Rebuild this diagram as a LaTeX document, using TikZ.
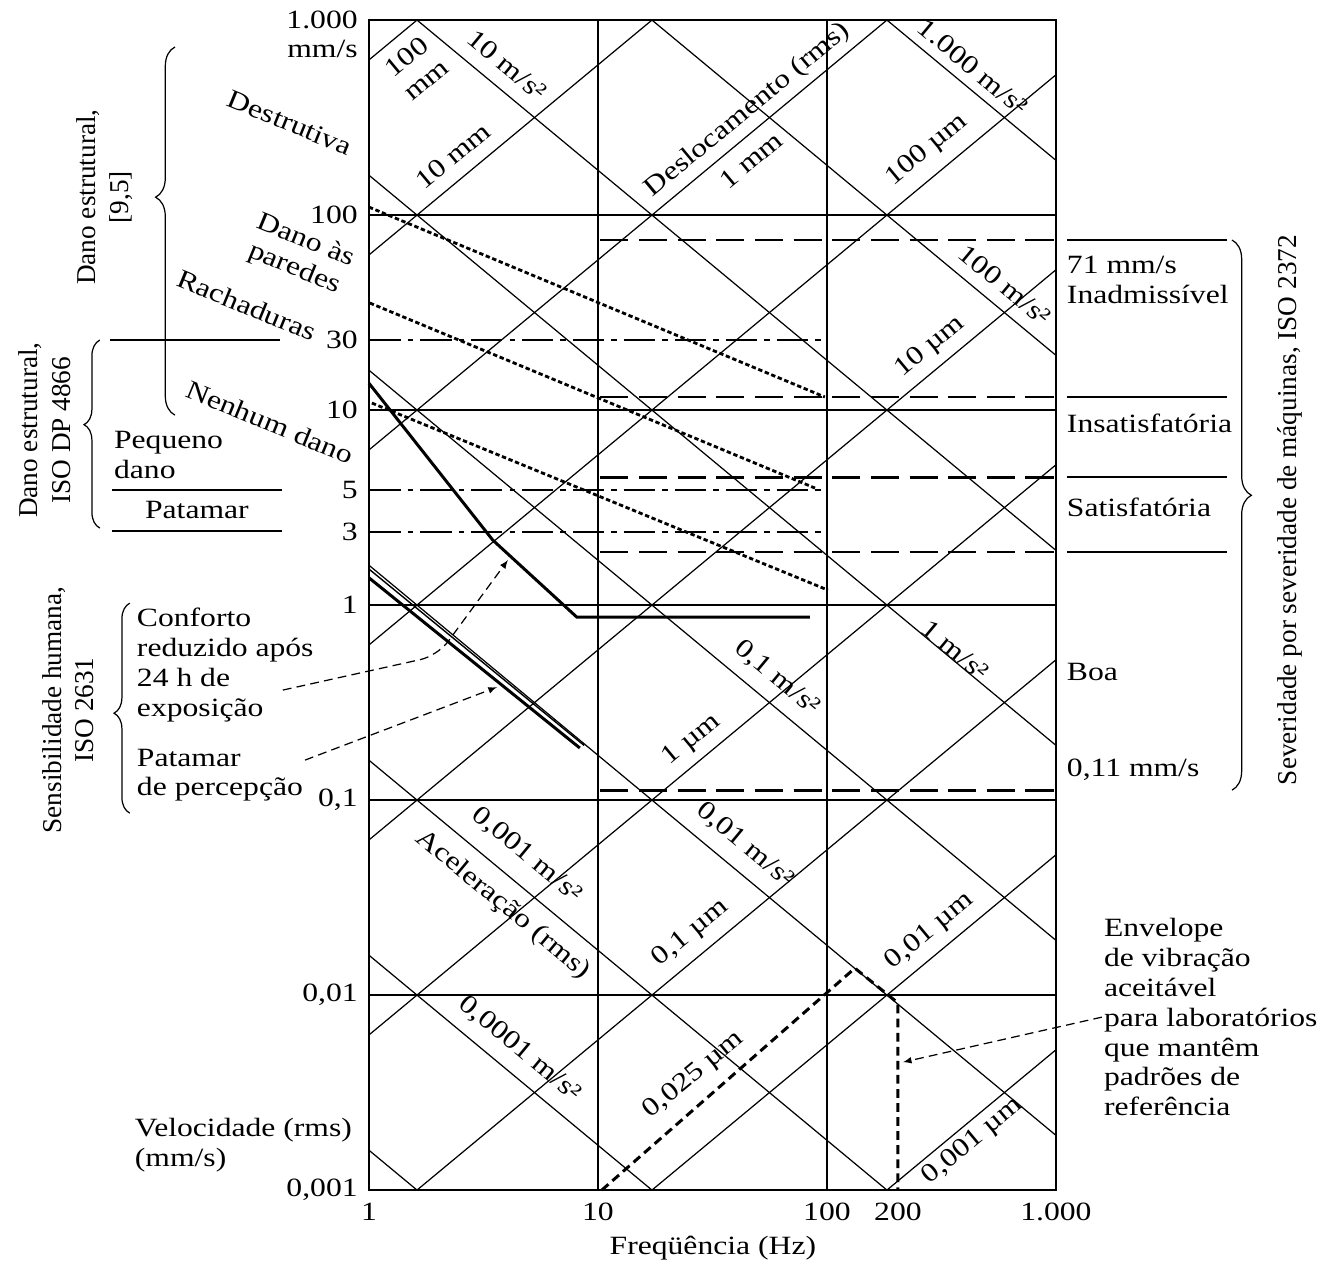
\documentclass[tikz,border=0pt]{standalone}
\usepackage{fontspec}
\setmainfont{Liberation Serif}[FakeStretch=1.2]
\newfontfamily\vertfont{Liberation Serif}
\usetikzlibrary{arrows}
\usetikzlibrary{decorations.pathreplacing}

\begin{document}
\begin{tikzpicture}[x=4.58cm, y=3.9cm,
    thingrid/.style={line width=0.75pt},
    diagline/.style={line width=0.7pt},
    isoline/.style={line width=1.6pt, dash pattern=on 16pt off 6pt},
    dashdotline/.style={line width=1.5pt, dash pattern=on 18pt off 4pt on 3pt off 4pt},
    dotline/.style={line width=1.6pt, dash pattern=on 2.5pt off 1.5pt},
    critline/.style={line width=1.7pt},
    leader/.style={line width=0.7pt, dash pattern=on 5pt off 3pt, -latex},
    lbl/.style={font=\fontsize{15}{17}\selectfont, inner sep=1pt, align=center},
    vlbl/.style={font=\vertfont\fontsize{15.5}{18.5}\selectfont, rotate=90, align=center, inner sep=1pt},
    uplbl/.style={lbl, rotate=39.7},
    downlbl/.style={lbl, rotate=-39.7},
    critlbl/.style={lbl, rotate=-22.3},
    bracefig/.style={decorate, line width=0.7pt}
]
\useasboundingbox (-1.611,-0.395) rectangle (4.258,6.103);

% displacement and acceleration lines
\begin{scope}
    \clip (0,0) rectangle (3,6);
    \foreach \k in {-2,...,6}
        \draw[diagline] (0.21-8*1.026,\k-8) -- (0.21+8*1.026,\k+8);
    \foreach \k in {0,...,8}
        \draw[diagline] (0.21-8*1.026,\k+8) -- (0.21+8*1.026,\k-8);
\end{scope}

% decades and frame
\foreach \k in {1,...,5}
    \draw[thingrid] (0,\k) -- (3,\k);
\foreach \k in {1,2}
    \draw[thingrid] (\k,0) -- (\k,6);
\draw[line width=1.5pt] (0,0) rectangle (3,6);

% axis labels
\node[lbl, anchor=north east, align=right] (vtop) at (-0.04,6.06) {1.000\\mm/s};
\foreach \yv/\txt/\nm in {5/100/v100, 4.359/30/v30, 4/10/v10, 3.59/5/v5, 3.374/3/v3,
        3/1/v1, 2/{0,1}/vp1, 1/{0,01}/vp01, 0/{0,001}/vp001}
    \node[lbl, anchor=east] (\nm) at (-0.04,\yv) {\txt};
\foreach \xv/\txt/\nm in {0/1/f1, 1/10/f10, 2/100/f100, 2.31/200/f200, 3/1.000/f1000}
    \node[lbl] (\nm) at (\xv,-0.113) {\txt};
\node[lbl] (xtitle) at (1.502,-0.297) {Freqüência (Hz)};
\node[lbl, anchor=west, align=left] (ytitle) at (-1.031,0.231) {Velocidade (rms)\\(mm/s)};

% labels on the diagonals
\node[uplbl] (d100mm) at (0.205,5.754) {100\\mm};
\node[uplbl] (d10mm) at (0.367,5.303) {10 mm};
\node[uplbl] (desloc) at (1.655,5.538) {Deslocamento (rms)};
\node[uplbl] (d1mm) at (1.668,5.282) {1 mm};
\node[uplbl] (d100um) at (2.437,5.333) {100 µm};
\node[uplbl] (d10um) at (2.45,4.323) {10 µm};
\node[uplbl] (d1um) at (1.41,2.308) {1 µm};
\node[uplbl] (dp1um) at (1.406,1.318) {0,1 µm};
\node[uplbl] (dp01um) at (2.45,1.328) {0,01 µm};
\node[uplbl] (dp025um) at (1.419,0.59) {0,025 µm};
\node[uplbl] (dp001um) at (2.638,0.251) {0,001 µm};
\node[downlbl] (a10) at (0.603,5.769) {10 m/s²};
\node[downlbl] (a1000) at (2.638,5.759) {1.000 m/s²};
\node[downlbl] (a100) at (2.777,4.641) {100 m/s²};
\node[downlbl] (a1) at (2.559,2.769) {1 m/s²};
\node[downlbl] (ap1) at (1.782,2.626) {0,1 m/s²};
\node[downlbl] (ap01) at (1.642,1.769) {0,01 m/s²};
\node[downlbl] (ap001) at (0.69,1.718) {0,001 m/s²};
\node[downlbl] (acel) at (0.585,1.462) {Aceleração (rms)};
\node[downlbl] (ap0001) at (0.659,0.723) {0,0001 m/s²};

% structural damage
\draw[dotline] (0,5.041) -- (1.991,4.067);
\draw[dotline] (0.004,4.549) -- (1.948,3.6);
\draw[dotline] (0.013,4.036) -- (2.004,3.077);
\draw[dashdotline] (0,4.359) -- (1.978,4.359);
\draw[dashdotline] (0,3.59) -- (1.978,3.59);
\draw[dashdotline] (0,3.374) -- (1.978,3.374);
\draw[thingrid] (-1.131,4.359) -- (-0.389,4.359);
\draw[thingrid] (-1.122,3.59) -- (-0.38,3.59);
\draw[thingrid] (-1.122,3.38) -- (-0.38,3.38);
\node[critlbl] (destr) at (-0.345,5.472) {Destrutiva};
\node[critlbl] (paredes) at (-0.301,4.795) {Dano às\\paredes};
\node[critlbl] (rachad) at (-0.533,4.538) {Rachaduras};
\node[critlbl] (nenhum) at (-0.432,3.938) {Nenhum dano};
\node[lbl, anchor=west, align=left] (pequeno) at (-1.122,3.769) {Pequeno\\dano};
\node[lbl] (patamar) at (-0.751,3.487) {Patamar};
\node[vlbl] (danoest) at (-1.153,5.092) {Dano estrutural,\\{[9,5]}};
\node[vlbl] (danoiso) at (-1.415,3.897) {Dano estrutural,\\ISO DP 4866};
\draw[bracefig, decoration={brace, amplitude=11pt, aspect=0.592}] (-0.847,3.974) -- (-0.847,5.862);
\draw[bracefig, decoration={brace, amplitude=9pt, aspect=0.55}] (-1.175,3.395) -- (-1.175,4.359);

% human sensitivity
\draw[critline] (0,4.138) -- (0.541,3.333) -- (0.908,2.938) -- (1.926,2.938);
\draw[critline] (0,3.14) -- (0.921,2.267);
\draw[line width=0.8pt] (0,3.185) -- (0.94,2.28);
\node[lbl, anchor=west, align=left] (conforto) at (-1.022,2.692) {Conforto\\reduzido após\\24 h de\\exposição};
\node[lbl, anchor=west, align=left] (percep) at (-1.022,2.128) {Patamar\\de percepção};
\node[vlbl] (sensib) at (-1.314,2.462) {Sensibilidade humana,\\ISO 2631};
\draw[bracefig, decoration={brace, amplitude=9pt, aspect=0.476}] (-1.044,1.933) -- (-1.044,3.01);
\coordinate (cstart) at (-0.376,2.564);
\coordinate (cbend) at (0.3,2.74);
\coordinate (ctip) at (0.607,3.231);
\coordinate (pstart) at (-0.279,2.205);
\coordinate (ptip) at (0.559,2.579);
\draw[leader, rounded corners=10pt] (cstart) -- (cbend) -- (ctip);
\draw[leader] (pstart) -- (ptip);

% machine severity
\foreach \yv in {4.872,4.067,3.656,3.272,2.051}
    \draw[isoline] (1.01,\yv) -- (3,\yv);
\foreach \yv in {4.872,4.067,3.656,3.272}
    \draw[thingrid] (3.048,\yv) -- (3.747,\yv);
\node[lbl, anchor=west, align=left] (inadm) at (3.039,4.667) {71 mm/s\\Inadmissível};
\node[lbl, anchor=west] (insat) at (3.039,3.933) {Insatisfatória};
\node[lbl, anchor=west] (satisf) at (3.039,3.503) {Satisfatória};
\node[lbl, anchor=west] (boa) at (3.039,2.656) {Boa};
\node[lbl, anchor=west] (p11) at (3.039,2.154) {0,11 mm/s};
\draw[bracefig, decoration={brace, amplitude=11pt, aspect=0.464}] (3.769,4.872) -- (3.769,2.051);
\node[vlbl] (severid) at (4.022,3.487) {Severidade por severidade de máquinas, ISO 2372};

% laboratory envelope
\draw[line width=1.7pt, dash pattern=on 5pt off 3pt] (1.017,0) -- (2.122,1.138) -- (2.31,0.96) -- (2.31,0);
\node[lbl, anchor=west, align=left] (envelope) at (3.201,0.887)
    {Envelope\\de vibração\\aceitável\\para laboratórios\\que mantêm\\padrões de\\referência};
\coordinate (etip) at (2.332,0.656);
\draw[leader] (envelope.west) -- (etip);

\end{tikzpicture}
\end{document}
